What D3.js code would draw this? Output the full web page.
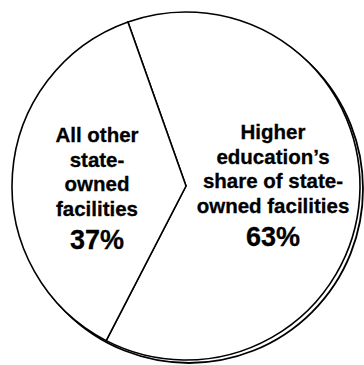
<!DOCTYPE html>
<html><head><meta charset="utf-8">
<script src="https://cdn.jsdelivr.net/npm/d3@7"></script>
<style>html,body{margin:0;padding:0;background:#fff;}svg{display:block;}</style>
</head><body>
<svg id="chart" width="364" height="365"></svg>
<script>
const categories = ["Higher education's share of state-owned facilities", "All other state-owned facilities"];
const values = [63, 37];
const labelLines = [
  ["Higher", "education\u2019s", "share of state-", "owned facilities"],
  ["All other", "state-", "owned", "facilities"]
];

const svg = d3.select("#chart");
const cx = 186, cy = 186, r = 174;
const startDeg = -19.5;

const pie = d3.pie().sort(null).value(d => d)
  .startAngle(startDeg * Math.PI / 180)
  .endAngle((startDeg + 360) * Math.PI / 180);
const arcs = pie(values);
const arc = d3.arc().innerRadius(0).outerRadius(r);

// shadow circle (offset)
svg.append("circle").attr("cx", cx + 3).attr("cy", cy + 3).attr("r", r)
  .attr("fill", "#fff").attr("stroke", "#000").attr("stroke-width", 1.8);

const g = svg.append("g").attr("transform", `translate(${cx},${cy})`);
g.selectAll("path").data(arcs).join("path")
  .attr("d", arc)
  .attr("fill", "#fff")
  .attr("stroke", "#000")
  .attr("stroke-width", 1.6)
  .attr("stroke-linejoin", "miter");

const labelPos = [[87, -47], [-89, -44]];
const font = "'Liberation Sans', Arial, Helvetica, sans-serif";
arcs.forEach((a, i) => {
  const t = g.append("text")
    .attr("x", labelPos[i][0]).attr("y", labelPos[i][1])
    .attr("text-anchor", "middle")
    .attr("font-family", font).attr("font-weight", "bold")
    .attr("font-size", 20.5).attr("fill", "#000")
    .attr("stroke", "#000").attr("stroke-width", 0.3);
  labelLines[i].forEach((ln, k) => {
    t.append("tspan").attr("x", labelPos[i][0]).attr("dy", k === 0 ? 0 : 24.5).text(ln);
  });
  t.append("tspan").attr("x", labelPos[i][0]).attr("dy", 33)
    .attr("font-size", 27).text(values[i] + "%");
});
</script>
</body></html>
